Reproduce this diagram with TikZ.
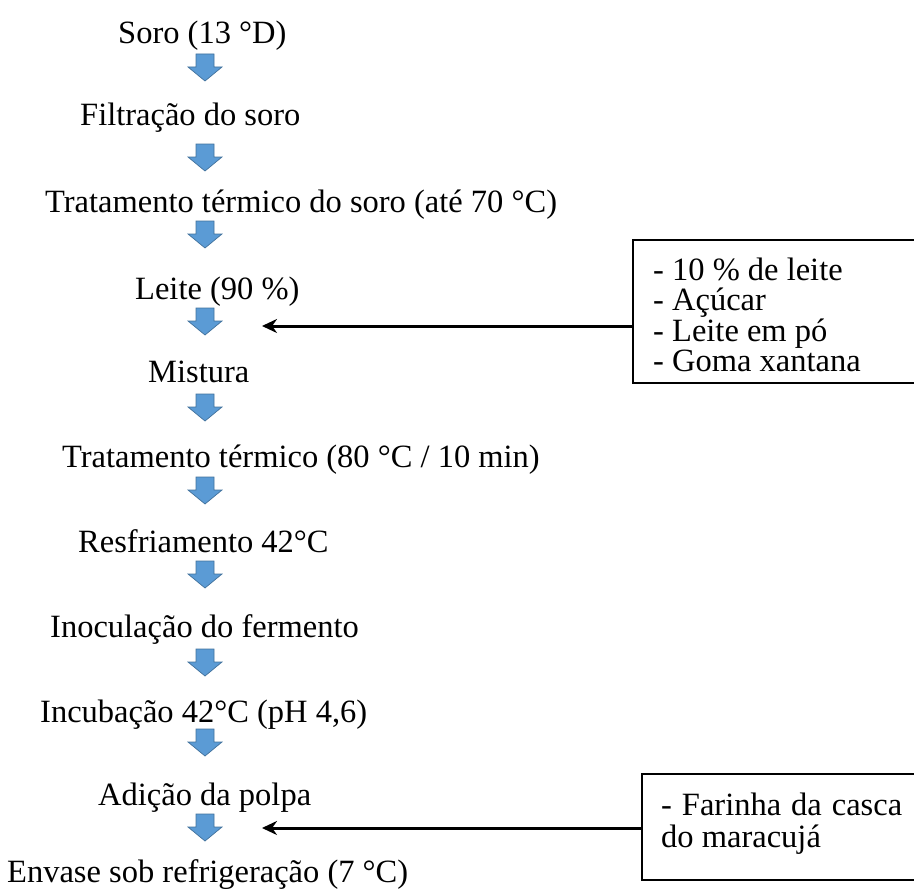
\documentclass[tikz,border=0pt]{standalone}
\usepackage{fontspec}
\setmainfont{Liberation Serif}
\usetikzlibrary{arrows.meta}
\definecolor{arrfill}{HTML}{5B9BD5}
\definecolor{arrdraw}{HTML}{41719C}
\tikzset{
  steptext/.style={anchor=base west, inner sep=0pt, font=\fontsize{32.5}{34}\selectfont},
  sidebox/.style={draw=black, line width=1.8pt},
  sidetext/.style={anchor=north west, inner sep=0pt, align=left, font=\fontsize{32.5}{30.5}\selectfont},
  sidetexttwo/.style={anchor=north west, inner sep=0pt, align=left, font=\fontsize{32.5}{32}\selectfont},
  feed/.style={line width=3pt, -{Stealth[length=15pt,width=14pt]}},
  pics/downarrow/.style={code={
    \draw[fill=arrfill, draw=arrdraw, line width=0.7pt]
      (-9,0) -- (9,0) -- (9,13) -- (17,13) -- (0,27) -- (-17,13) -- (-9,13) -- cycle;
  }}
}
\begin{document}
\begin{tikzpicture}[x=1pt,y=-1pt]
\useasboundingbox (0,0) rectangle (914,891);
\node[steptext] (s1) at (118,44) {Soro (13 °D)};
\node[steptext] (s2) at (80,125) {Filtração do soro};
\node[steptext] (s3) at (45,212) {Tratamento térmico do soro (até 70 °C)};
\node[steptext] (s4) at (135,299) {Leite (90 \%)};
\node[steptext] (s5) at (148,382) {Mistura};
\node[steptext] (s6) at (62,467) {Tratamento térmico (80 °C / 10 min)};
\node[steptext] (s7) at (78,552) {Resfriamento 42°C};
\node[steptext] (s8) at (50,637) {Inoculação do fermento};
\node[steptext] (s9) at (40,722) {Incubação 42°C (pH 4,6)};
\node[steptext] (s10) at (98,805) {Adição da polpa};
\node[steptext] (s11) at (7,882) {Envase sob refrigeração (7 °C)};
\pic at (205,54) {downarrow};
\pic at (205,144) {downarrow};
\pic at (205,221) {downarrow};
\pic at (205,308) {downarrow};
\pic at (205,394) {downarrow};
\pic at (205,477) {downarrow};
\pic at (205,561) {downarrow};
\pic at (205,649) {downarrow};
\pic at (205,729) {downarrow};
\pic at (205,814) {downarrow};
\draw[sidebox] (633,240) rectangle (925,383);
\node[sidetext] (b1) at (653,257.5) {- 10 \% de leite\\- Açúcar\\- Leite em pó\\- Goma xantana};
\coordinate (b1w) at (633,326);
\coordinate (t1) at (262,326);
\draw[feed] (b1w) -- (t1);
\draw[sidebox] (642,774) rectangle (925,880);
\node[sidetexttwo] (b2) at (661,792.5) {\makebox[241pt][s]{- Farinha da casca}\\do maracujá};
\coordinate (b2w) at (642,828);
\coordinate (t2) at (262,828);
\draw[feed] (b2w) -- (t2);
\end{tikzpicture}
\end{document}
